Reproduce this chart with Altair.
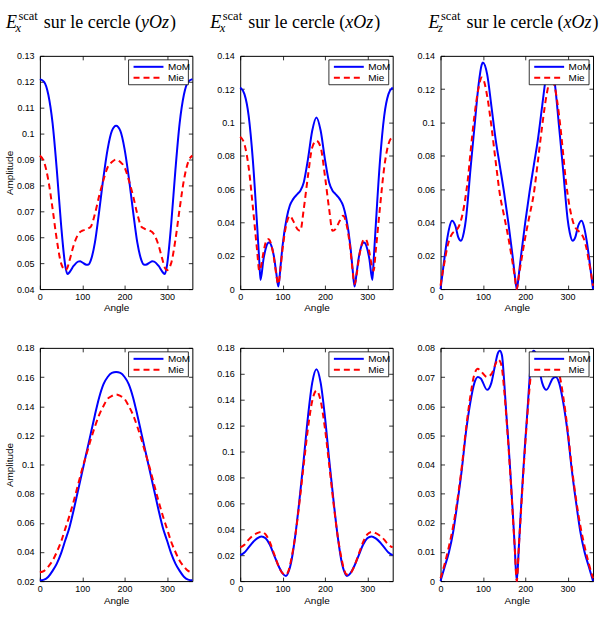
import altair as alt
import pandas as pd

SANS = "Liberation Sans"
SERIF = "Liberation Serif"
BLUE = "#0000FF"
RED = "#FF0000"

# ---------------- data ----------------
angle_1 = [0, 10, 20, 30, 40, 50, 60, 65, 70, 80, 90, 95, 100, 110, 115, 120, 130, 140, 150, 160, 170, 180,
           190, 200, 210, 220, 230, 240, 245, 250, 260, 265, 270, 280, 290, 295, 300, 310, 320, 330, 340, 350, 360]
mom_1 = [0.121, 0.120, 0.115, 0.104, 0.086, 0.065, 0.049, 0.0458, 0.0465, 0.049, 0.0506, 0.0507, 0.0503, 0.0494,
         0.0495, 0.051, 0.058, 0.070, 0.083, 0.094, 0.101, 0.103,
         0.101, 0.094, 0.083, 0.070, 0.058, 0.051, 0.0495, 0.0494, 0.0503, 0.0507, 0.0506, 0.049, 0.0465, 0.0458,
         0.049, 0.065, 0.086, 0.104, 0.115, 0.120, 0.121]
mie_1 = [0.0915, 0.089, 0.082, 0.071, 0.059, 0.050, 0.0473, 0.0482, 0.051, 0.057, 0.061, 0.062, 0.0625, 0.063,
         0.0635, 0.064, 0.069, 0.076, 0.082, 0.087, 0.089, 0.090,
         0.089, 0.087, 0.082, 0.076, 0.069, 0.064, 0.0635, 0.063, 0.0625, 0.062, 0.061, 0.057, 0.051, 0.0482,
         0.0473, 0.050, 0.059, 0.071, 0.082, 0.089, 0.0915]

angle_2 = [0, 10, 20, 30, 40, 45, 48, 55, 60, 65, 68, 75, 80, 85, 90, 95, 100, 110, 117, 125, 135, 142, 150, 160, 170, 180,
           190, 200, 210, 218, 225, 235, 243, 250, 260, 265, 270, 275, 280, 285, 292, 295, 300, 305, 312, 315, 320,
           330, 340, 350, 360]
mom_2 = [0.121, 0.117, 0.104, 0.077, 0.038, 0.017, 0.0055, 0.018, 0.024, 0.0275, 0.028, 0.025, 0.019, 0.010, 0.0015,
         0.013, 0.026, 0.043, 0.050, 0.054, 0.057, 0.059, 0.064, 0.078, 0.095, 0.103,
         0.095, 0.078, 0.064, 0.059, 0.057, 0.054, 0.050, 0.043, 0.026, 0.013, 0.0015, 0.010, 0.019, 0.025, 0.028,
         0.0275, 0.024, 0.018, 0.0055, 0.017, 0.038, 0.077, 0.104, 0.117, 0.121]
mie_2 = [0.0915, 0.087, 0.073, 0.049, 0.023, 0.011, 0.0125, 0.022, 0.028, 0.030, 0.0298, 0.025, 0.018, 0.009, 0.003,
         0.012, 0.024, 0.040, 0.044, 0.041, 0.036, 0.035, 0.048, 0.068, 0.085, 0.089,
         0.085, 0.068, 0.048, 0.035, 0.036, 0.041, 0.044, 0.040, 0.024, 0.012, 0.003, 0.009, 0.018, 0.025, 0.0298,
         0.030, 0.028, 0.022, 0.0125, 0.011, 0.023, 0.049, 0.073, 0.087, 0.0915]

angle_3 = [0, 5, 10, 15, 20, 27, 35, 42, 48, 55, 60, 65, 70, 80, 90, 97, 100, 110, 120, 130, 140, 150, 160, 170, 175, 180,
           185, 190, 200, 210, 220, 230, 240, 250, 260, 263, 270, 280, 290, 295, 300, 305, 312, 318, 325, 333, 340,
           345, 350, 355, 360]
mom_3 = [0.0, 0.010, 0.020, 0.029, 0.036, 0.041, 0.038, 0.031, 0.029, 0.034, 0.042, 0.055, 0.070, 0.097, 0.123,
         0.1345, 0.136, 0.129, 0.110, 0.090, 0.074, 0.058, 0.040, 0.020, 0.009, 0.0,
         0.009, 0.020, 0.040, 0.058, 0.074, 0.090, 0.110, 0.129, 0.136, 0.1345, 0.123, 0.097, 0.070, 0.055, 0.042,
         0.034, 0.029, 0.031, 0.038, 0.041, 0.036, 0.029, 0.020, 0.010, 0.0]
mie_3 = [0.002, 0.010, 0.017, 0.024, 0.029, 0.033, 0.035, 0.037, 0.041, 0.049, 0.057, 0.067, 0.080, 0.104, 0.121,
         0.127, 0.1265, 0.116, 0.098, 0.077, 0.057, 0.044, 0.031, 0.016, 0.008, 0.0,
         0.008, 0.016, 0.031, 0.044, 0.057, 0.077, 0.098, 0.116, 0.1265, 0.127, 0.121, 0.104, 0.080, 0.067, 0.057,
         0.049, 0.041, 0.037, 0.035, 0.033, 0.029, 0.024, 0.017, 0.010, 0.002]

angle_4 = [0, 10, 20, 30, 40, 50, 60, 70, 80, 90, 100, 110, 120, 130, 140, 150, 160, 170, 180,
           190, 200, 210, 220, 230, 240, 250, 260, 270, 280, 290, 300, 310, 320, 330, 340, 350, 360]
mom_4 = [0.0205, 0.021, 0.023, 0.027, 0.032, 0.039, 0.048, 0.057, 0.069, 0.082, 0.095, 0.108, 0.121, 0.134, 0.146,
         0.155, 0.160, 0.1628, 0.1635,
         0.1628, 0.160, 0.155, 0.146, 0.134, 0.121, 0.108, 0.095, 0.082, 0.069, 0.057, 0.048, 0.039, 0.032, 0.027,
         0.023, 0.021, 0.0205]
mie_4 = [0.026, 0.027, 0.030, 0.034, 0.040, 0.047, 0.056, 0.065, 0.075, 0.086, 0.097, 0.107, 0.117, 0.126, 0.134,
         0.140, 0.145, 0.147, 0.148,
         0.147, 0.145, 0.140, 0.134, 0.126, 0.117, 0.107, 0.097, 0.086, 0.075, 0.065, 0.056, 0.047, 0.040, 0.034,
         0.030, 0.027, 0.026]

angle_5 = [0, 10, 20, 30, 40, 50, 60, 70, 80, 90, 100, 108, 115, 120, 130, 140, 150, 160, 170, 180,
           190, 200, 210, 220, 230, 240, 245, 252, 260, 270, 280, 290, 300, 310, 320, 330, 340, 350, 360]
mom_5 = [0.020, 0.022, 0.026, 0.030, 0.033, 0.0345, 0.033, 0.028, 0.020, 0.012, 0.006, 0.004, 0.008, 0.014, 0.035,
         0.063, 0.094, 0.127, 0.153, 0.1635,
         0.153, 0.127, 0.094, 0.063, 0.035, 0.014, 0.008, 0.004, 0.006, 0.012, 0.020, 0.028, 0.033, 0.0345, 0.033,
         0.030, 0.026, 0.022, 0.020]
mie_5 = [0.026, 0.028, 0.032, 0.035, 0.037, 0.038, 0.036, 0.030, 0.021, 0.012, 0.006, 0.005, 0.009, 0.016, 0.035,
         0.061, 0.090, 0.118, 0.139, 0.147,
         0.139, 0.118, 0.090, 0.061, 0.035, 0.016, 0.009, 0.005, 0.006, 0.012, 0.021, 0.030, 0.036, 0.038, 0.037,
         0.035, 0.032, 0.028, 0.026]

angle_6 = [0, 10, 20, 30, 40, 50, 60, 70, 80, 88, 95, 110, 120, 130, 135, 140, 145, 150, 155, 160, 165, 170, 175, 180,
           185, 190, 195, 200, 205, 210, 215, 220, 225, 230, 240, 250, 265, 272, 280, 290, 300, 310, 320, 330, 340,
           350, 360]
mom_6 = [0.0, 0.005, 0.010, 0.017, 0.027, 0.038, 0.051, 0.061, 0.068, 0.070, 0.0695, 0.0656, 0.068, 0.075, 0.078,
         0.079, 0.0775, 0.069, 0.058, 0.048, 0.037, 0.025, 0.012, 0.0,
         0.012, 0.025, 0.037, 0.048, 0.058, 0.069, 0.0775, 0.079, 0.078, 0.075, 0.068, 0.0656, 0.0695, 0.070, 0.068,
         0.061, 0.051, 0.038, 0.027, 0.017, 0.010, 0.005, 0.0]
mie_6 = [0.001, 0.006, 0.012, 0.019, 0.028, 0.039, 0.052, 0.063, 0.071, 0.0728, 0.072, 0.070, 0.071, 0.0745, 0.076,
         0.0755, 0.073, 0.066, 0.057, 0.047, 0.036, 0.024, 0.012, 0.0,
         0.012, 0.024, 0.036, 0.047, 0.057, 0.066, 0.073, 0.0755, 0.076, 0.0745, 0.071, 0.070, 0.072, 0.0728, 0.071,
         0.063, 0.052, 0.039, 0.028, 0.019, 0.012, 0.006, 0.001]

x_ticks = [0, 100, 200, 300]
y_ticks_1 = [0.04, 0.05, 0.06, 0.07, 0.08, 0.09, 0.1, 0.11, 0.12, 0.13]
y_ticks_2 = [0, 0.02, 0.04, 0.06, 0.08, 0.1, 0.12, 0.14]
y_ticks_4 = [0.02, 0.04, 0.06, 0.08, 0.1, 0.12, 0.14, 0.16, 0.18]
y_ticks_5 = [0, 0.02, 0.04, 0.06, 0.08, 0.1, 0.12, 0.14, 0.16, 0.18]
y_ticks_6 = [0, 0.01, 0.02, 0.03, 0.04, 0.05, 0.06, 0.07, 0.08]

series_labels = ["MoM", "Mie"]

W, H = 153, 234


def one():
    return alt.Chart(alt.Data(values=[{"k": 1}]))


def title_layers(tx, sub, plane):
    y0 = -28
    L = []
    L.append(one().mark_text(text="E", font=SERIF, fontSize=18, fontStyle="italic", align="left",
                             baseline="alphabetic", color="black").encode(x=alt.value(tx), y=alt.value(y0)))
    L.append(one().mark_text(text="scat", font=SERIF, fontSize=12.5, align="left",
                             baseline="alphabetic", color="black").encode(x=alt.value(tx + 12.5), y=alt.value(y0 - 8)))
    L.append(one().mark_text(text=sub, font=SERIF, fontSize=12.5, fontStyle="italic", align="left",
                             baseline="alphabetic", color="black").encode(x=alt.value(tx + 9.5), y=alt.value(y0 + 4)))
    L.append(one().mark_text(text="sur le cercle (", font=SERIF, fontSize=18, align="left",
                             baseline="alphabetic", color="black").encode(x=alt.value(tx + 38), y=alt.value(y0)))
    L.append(one().mark_text(text=plane, font=SERIF, fontSize=18, fontStyle="italic", align="left",
                             baseline="alphabetic", color="black").encode(x=alt.value(tx + 135.5), y=alt.value(y0)))
    L.append(one().mark_text(text=")", font=SERIF, fontSize=18, align="left",
                             baseline="alphabetic", color="black").encode(x=alt.value(tx + 164.5), y=alt.value(y0)))
    return L


def legend_layers():
    L = []
    L.append(one().mark_rect(fill="white", stroke="black", strokeWidth=0.8).encode(
        x=alt.value(89), x2=alt.value(149), y=alt.value(4), y2=alt.value(29)))
    L.append(one().mark_rule(color=BLUE, strokeWidth=2).encode(
        x=alt.value(94), x2=alt.value(124), y=alt.value(11)))
    L.append(one().mark_rule(color=RED, strokeWidth=2, strokeDash=[6, 4]).encode(
        x=alt.value(94), x2=alt.value(124), y=alt.value(22)))
    L.append(one().mark_text(text=series_labels[0], font=SANS, fontSize=10, align="left", baseline="middle",
                             color="black").encode(x=alt.value(128.5), y=alt.value(11)))
    L.append(one().mark_text(text=series_labels[1], font=SANS, fontSize=10, align="left", baseline="middle",
                             color="black").encode(x=alt.value(128.5), y=alt.value(22)))
    return L


def panel(angles, mom, mie, ydom, yticks, ytitle, title_args=None, anchor=None):
    df = pd.DataFrame({"angle": angles, "mom": mom, "mie": mie})
    xs = alt.Scale(domain=[0, 360], nice=False, zero=False)
    ys = alt.Scale(domain=ydom, nice=False, zero=False)
    common = dict(grid=False, domain=False, tickSize=4, tickColor="black", tickWidth=0.8,
                  labelFont=SANS, labelFontSize=9, labelColor="black",
                  titleFont=SANS, titleFontSize=10, titleFontWeight="normal", titleColor="black")
    xa = alt.Axis(orient="bottom", values=x_ticks, offset=-4, labelPadding=3, labelFlush=False,
                  title="Angle", titlePadding=2, **common)
    if ytitle:
        ya = alt.Axis(orient="left", values=yticks, format="~g", offset=-4, labelPadding=6, labelFlush=False,
                      title=ytitle, titlePadding=2, **common)
    else:
        ya = alt.Axis(orient="left", values=yticks, format="~g", offset=-4, labelPadding=6, labelFlush=False,
                      title=None, **common)
    xt = alt.Axis(orient="top", values=x_ticks, offset=-4, labels=False, title=None, **common)
    yr = alt.Axis(orient="right", values=yticks, offset=-4, labels=False, title=None, **common)

    base = alt.Chart(df)
    l1 = base.mark_line(color=BLUE, strokeWidth=2, interpolate="monotone").encode(
        x=alt.X("angle:Q", scale=xs, axis=xa), y=alt.Y("mom:Q", scale=ys, axis=ya))
    l2 = base.mark_line(color=RED, strokeWidth=2, strokeDash=[6, 4], interpolate="monotone").encode(
        x=alt.X("angle:Q", scale=xs, axis=xt), y=alt.Y("mie:Q", scale=ys, axis=yr))
    layers = [l1, l2] + legend_layers()
    if title_args:
        layers += title_layers(*title_args)
    if anchor:
        layers.append(one().mark_rule(opacity=0, strokeWidth=0).encode(
            x=alt.value(anchor[0]), x2=alt.value(anchor[0]), y=alt.value(anchor[1]), y2=alt.value(anchor[1])))
    return alt.layer(*layers).resolve_axis(x="independent", y="independent").properties(width=W, height=H)


p1 = panel(angle_1, mom_1, mie_1, [0.04, 0.13], y_ticks_1, "Amplitude", (-34, "x", "yOz"), anchor=(-39, -54))
p2 = panel(angle_2, mom_2, mie_2, [0, 0.14], y_ticks_2, None, (-30, "x", "xOz"))
p3 = panel(angle_3, mom_3, mie_3, [0, 0.14], y_ticks_2, None, (-12, "z", "xOz"))
p4 = panel(angle_4, mom_4, mie_4, [0.02, 0.18], y_ticks_4, "Amplitude")
p5 = panel(angle_5, mom_5, mie_5, [0, 0.18], y_ticks_5, None)
p6 = panel(angle_6, mom_6, mie_6, [0, 0.08], y_ticks_6, None, anchor=(159, 270))

chart = alt.concat(p1, p2, p3, p4, p5, p6, columns=3, spacing={"row": 59, "column": 48}, bounds="flush",
                   padding=0, background="white").configure_view(stroke="black", strokeWidth=1)

chart.save("out.html", embed_options={"renderer": "svg", "actions": False})
